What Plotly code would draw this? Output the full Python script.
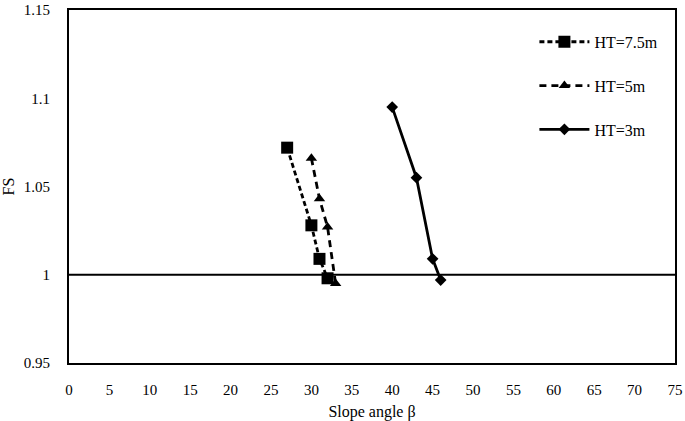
import plotly.graph_objects as go

# Slope angle (deg) and factor of safety for each wall height
ht75_angle = [27, 30, 31, 32]
ht75_fs = [1.072, 1.028, 1.009, 0.998]

ht5_angle = [30, 31, 32, 33]
ht5_fs = [1.066, 1.043, 1.027, 0.995]

ht3_angle = [40, 43, 45, 46]
ht3_fs = [1.095, 1.055, 1.009, 0.997]

x_ticks = list(range(0, 80, 5))
y_ticks = [0.95, 1.0, 1.05, 1.1, 1.15]
y_tick_text = ['0.95', '1', '1.05', '1.1', '1.15']

font = 'Liberation Serif, Times New Roman, serif'

fig = go.Figure()

fig.add_trace(go.Scatter(
    x=ht75_angle, y=ht75_fs, name='HT=7.5m', legendgroup='a',
    mode='lines+markers',
    line=dict(color='black', width=2.8, dash='5px,3px'),
    marker=dict(symbol='square', size=12, color='black'),
))
fig.add_trace(go.Scatter(
    x=ht5_angle, y=ht5_fs, name='HT=5m', legendgroup='b',
    mode='lines+markers',
    line=dict(color='black', width=2.8, dash='7px,5px'),
    marker=dict(symbol='triangle-up', size=10, color='black'),
))
fig.add_trace(go.Scatter(
    x=ht3_angle, y=ht3_fs, name='HT=3m', legendgroup='c',
    mode='lines+markers',
    line=dict(color='black', width=2.8),
    marker=dict(symbol='diamond', size=9, color='black'),
))

# FS = 1 reference line
fig.add_hline(y=1, line=dict(color='black', width=2))

fig.update_layout(
    width=685, height=421,
    margin=dict(l=69, r=10, t=10, b=58),
    plot_bgcolor='white', paper_bgcolor='white',
    font=dict(family=font, size=15, color='black'),
    legend=dict(
        x=0.768, y=0.958, xanchor='left', yanchor='top',
        font=dict(family=font, size=16), itemwidth=50,
        tracegroupgap=20, bgcolor='rgba(0,0,0,0)',
    ),
    xaxis=dict(
        range=[0, 75], tickvals=x_ticks, showgrid=False, zeroline=False,
        showline=True, linecolor='black', linewidth=2, mirror=True,
        ticks='', ticklabelstandoff=12, automargin=False,
        title=dict(text='Slope angle β', font=dict(size=16), standoff=12),
    ),
    yaxis=dict(
        range=[0.95, 1.15], tickvals=y_ticks, ticktext=y_tick_text,
        showgrid=False, zeroline=False,
        showline=True, linecolor='black', linewidth=2, mirror=True,
        ticks='', ticklabelstandoff=14, automargin=False,
        title=dict(text='FS', font=dict(size=16), standoff=14),
    ),
)

fig.write_html("out.html", config={'displayModeBar': False},
               post_script="document.body.style.margin='0';")
